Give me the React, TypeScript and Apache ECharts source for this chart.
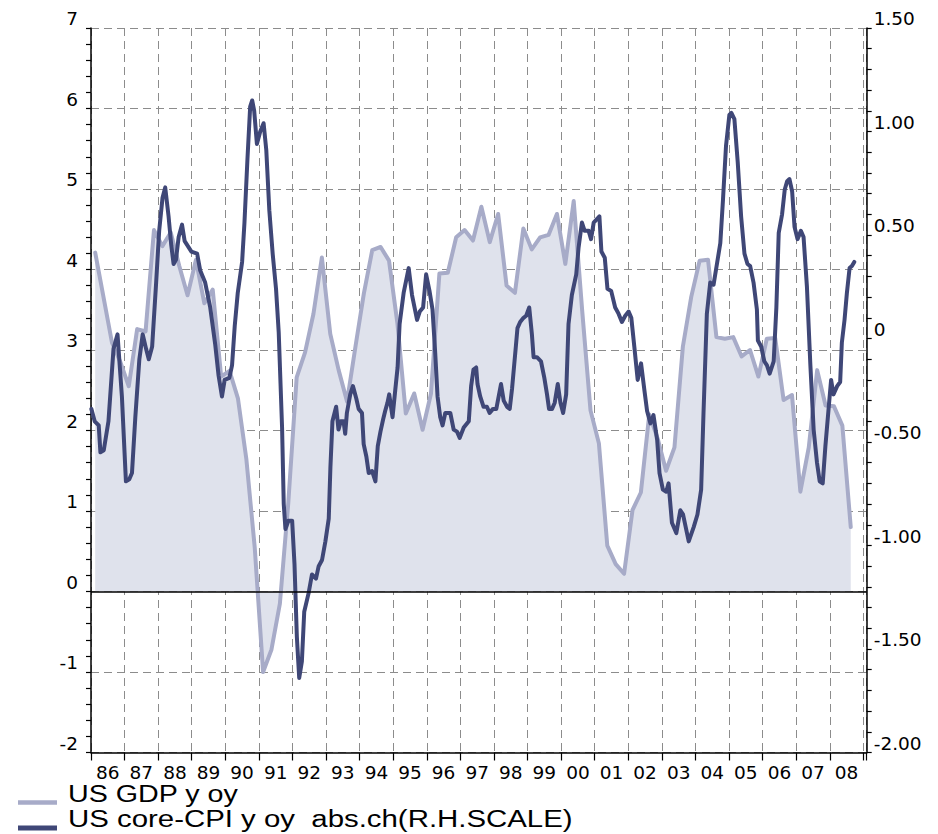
import React, { useEffect, useRef } from 'react';
import * as echarts from 'echarts';

// US GDP y/y (%), quarterly from 1986 Q1
const gdpStartYear = 1986;
const gdpYoY = [
  4.21, 3.65, 3.09, 2.85,
  2.55, 3.26, 3.23, 4.49,
  4.29, 4.46, 4.05, 3.68,
  4.12, 3.58, 3.75, 2.67,
  2.74, 2.4, 1.65, 0.55,
  -1.0, -0.72, -0.15, 1.1,
  2.66, 2.97, 3.45, 4.15,
  3.2, 2.75, 2.36, 3.04,
  3.7, 4.24, 4.28, 4.11,
  3.33, 2.21, 2.46, 2.01,
  2.46, 3.95, 3.96, 4.4,
  4.49, 4.36, 4.78, 4.34,
  4.69, 3.8, 3.71, 4.51,
  4.25, 4.4, 4.43, 4.69,
  4.07, 4.85, 3.5, 2.25,
  1.84, 0.57, 0.34, 0.22,
  1.01, 1.23, 2.2, 1.9,
  1.5, 1.79, 3.04, 3.66,
  4.11, 4.12, 3.16, 3.14,
  3.16, 2.92, 3.0, 2.67,
  3.14, 3.15, 2.38, 2.44,
  1.24, 1.79, 2.75, 2.31,
  2.3, 2.06, 0.8,
];

// US core-CPI y/y, absolute change (right-hand scale)
const cpiDates = [
  1986.01, 1986.11, 1986.23, 1986.28, 1986.38, 1986.52, 1986.67, 1986.79, 1986.92,
  1987.04, 1987.14, 1987.22, 1987.32, 1987.44, 1987.54, 1987.64, 1987.72, 1987.82, 1987.94,
  1988.03, 1988.13, 1988.21, 1988.31, 1988.39, 1988.46, 1988.53, 1988.61, 1988.71, 1988.79, 1988.99,
  1989.16, 1989.25, 1989.4, 1989.55, 1989.7, 1989.8, 1989.9, 1989.98,
  1990.12, 1990.2, 1990.28, 1990.37, 1990.5, 1990.57, 1990.66, 1990.74, 1990.8, 1990.86, 1990.94,
  1991.04, 1991.14, 1991.22, 1991.31, 1991.41, 1991.51, 1991.59, 1991.69, 1991.74, 1991.79, 1991.88, 1991.99,
  1992.06, 1992.13, 1992.2, 1992.28, 1992.35, 1992.48, 1992.58, 1992.7, 1992.78, 1992.88, 1992.98,
  1993.08, 1993.13, 1993.19, 1993.3, 1993.37, 1993.44, 1993.52, 1993.57, 1993.62, 1993.72, 1993.8, 1993.9, 1993.97,
  1994.07, 1994.12, 1994.2, 1994.27, 1994.37, 1994.47, 1994.54, 1994.62, 1994.7, 1994.76, 1994.83, 1994.88, 1994.98,
  1995.06, 1995.13, 1995.19, 1995.31, 1995.46, 1995.56, 1995.71, 1995.79, 1995.89, 1995.98,
  1996.08, 1996.17, 1996.25, 1996.32, 1996.4, 1996.47, 1996.55, 1996.7, 1996.8, 1996.9, 1996.98,
  1997.1, 1997.25, 1997.32, 1997.39, 1997.47, 1997.51, 1997.59, 1997.69, 1997.79, 1997.87, 1997.97,
  1998.07, 1998.21, 1998.29, 1998.39, 1998.47, 1998.54, 1998.64, 1998.7, 1998.78, 1998.88, 1998.96,
  1999.05, 1999.13, 1999.18, 1999.28, 1999.4, 1999.5, 1999.58, 1999.64, 1999.73, 1999.81, 1999.9, 1999.98,
  2000.06, 2000.15, 2000.22, 2000.32, 2000.45, 2000.52, 2000.62, 2000.7, 2000.82, 2000.89, 2000.97,
  2001.14, 2001.2, 2001.3, 2001.38, 2001.49, 2001.61, 2001.71, 2001.81, 2001.91,
  2002.01, 2002.09, 2002.18, 2002.28, 2002.38, 2002.48, 2002.56, 2002.66, 2002.75, 2002.86, 2002.93,
  2003.03, 2003.13, 2003.2, 2003.3, 2003.43, 2003.55, 2003.63, 2003.8, 2003.95,
  2004.06, 2004.17, 2004.24, 2004.34, 2004.44, 2004.54, 2004.64, 2004.74, 2004.82, 2004.91,
  2005.01, 2005.07, 2005.16, 2005.26, 2005.36, 2005.46, 2005.55, 2005.63, 2005.73, 2005.83, 2005.86, 2005.96,
  2006.05, 2006.13, 2006.21, 2006.33, 2006.41, 2006.48, 2006.58, 2006.66, 2006.73, 2006.8, 2006.88, 2006.95,
  2007.04, 2007.14, 2007.22, 2007.32, 2007.42, 2007.52, 2007.62, 2007.7, 2007.79, 2007.87, 2007.97,
  2008.04, 2008.11, 2008.22, 2008.31, 2008.36, 2008.44, 2008.51, 2008.59, 2008.66, 2008.73,
];
const cpiAbsCh = [
  -0.34, -0.4, -0.42, -0.55, -0.54, -0.4, -0.05, 0.02, -0.28,
  -0.69, -0.68, -0.65, -0.38, -0.1, 0.02, -0.05, -0.1, -0.04, 0.27,
  0.52, 0.68, 0.73, 0.59, 0.45, 0.36, 0.38, 0.49, 0.55, 0.47, 0.42,
  0.41, 0.33, 0.27, 0.15, -0.03, -0.18, -0.28, -0.2,
  -0.19, -0.13, 0.06, 0.22, 0.37, 0.56, 0.87, 1.12, 1.15, 1.1, 0.94,
  1.0, 1.04, 0.91, 0.62, 0.41, 0.24, 0.03, -0.43, -0.8, -0.92, -0.88, -0.88,
  -1.09, -1.44, -1.64, -1.56, -1.32, -1.23, -1.14, -1.16, -1.1, -1.07, -0.98,
  -0.87, -0.62, -0.4, -0.33, -0.44, -0.4, -0.4, -0.46, -0.36, -0.27, -0.23, -0.29, -0.34,
  -0.36, -0.51, -0.57, -0.65, -0.64, -0.69, -0.52, -0.45, -0.39, -0.35, -0.31, -0.27, -0.38,
  -0.25, -0.14, 0.07, 0.22, 0.34, 0.21, 0.09, 0.13, 0.15, 0.31,
  0.23, 0.14, -0.07, -0.28, -0.38, -0.42, -0.36, -0.36, -0.44, -0.45, -0.48,
  -0.43, -0.4, -0.23, -0.15, -0.14, -0.22, -0.28, -0.33, -0.33, -0.36, -0.34,
  -0.34, -0.22, -0.3, -0.33, -0.34, -0.24, -0.06, 0.05, 0.08, 0.1, 0.11,
  0.15, 0.02, -0.09, -0.09, -0.11, -0.19, -0.27, -0.34, -0.34, -0.31, -0.22, -0.31,
  -0.36, -0.27, 0.07, 0.21, 0.31, 0.44, 0.56, 0.52, 0.52, 0.48, 0.56,
  0.59, 0.42, 0.39, 0.24, 0.23, 0.15, 0.12, 0.08, 0.11,
  0.13, 0.1, -0.04, -0.2, -0.12, -0.25, -0.35, -0.41, -0.37, -0.49, -0.65,
  -0.73, -0.74, -0.7, -0.89, -0.94, -0.83, -0.85, -0.98, -0.91,
  -0.85, -0.73, -0.36, 0.12, 0.27, 0.26, 0.36, 0.46, 0.67, 0.93,
  1.08, 1.09, 1.06, 0.85, 0.59, 0.41, 0.36, 0.35, 0.27, 0.14, -0.01, -0.04,
  -0.11, -0.13, -0.17, -0.11, 0.15, 0.51, 0.6, 0.72, 0.76, 0.77, 0.71, 0.54,
  0.48, 0.52, 0.49, 0.25, -0.12, -0.44, -0.6, -0.69, -0.7, -0.52, -0.33,
  -0.2, -0.27, -0.23, -0.21, -0.02, 0.09, 0.22, 0.34, 0.35, 0.37,
];

const legendLabels = ['US GDP y oy', 'US core-CPI y oy  abs.ch(R.H.SCALE)'];

const FONT = '"Liberation Sans", Arial, Helvetica, sans-serif';
const TICK_FONT = '"DejaVu Sans", "Liberation Sans", sans-serif';
const LIGHT = '#a7abc8';
const DARK = '#3f4777';
const FILL = '#dfe2ec';

export default function App() {
  const ref = useRef<HTMLDivElement>(null);

  useEffect(() => {
    if (!ref.current) return;
    const chart = echarts.init(ref.current, null, { renderer: 'svg' });

    const gdpData = gdpYoY.map((v, i) => [gdpStartYear + (i + 0.5) / 4, v]);
    const cpiData = cpiDates.map((t, i) => [t, cpiAbsCh[i]]);

    const gridDash = { color: '#8c8c8c', width: 1, type: [8, 5] as number[] };
    const tickLabel = {
      color: '#000',
      fontFamily: TICK_FONT,
      fontSize: 18.5,
      lineHeight: 19,
    };

    const option: any = {
      animation: false,
      backgroundColor: '#ffffff',
      grid: { left: 91, right: 71.3, top: 28, bottom: 81.5, containLabel: false },
      xAxis: [
        {
          type: 'value',
          min: 1986,
          max: 2009.1,
          interval: 1,
          position: 'bottom',
          axisLine: { show: true, onZero: false, lineStyle: { color: '#000', width: 1.5 } },
          axisTick: { show: true, inside: false, length: 8, lineStyle: { color: '#000', width: 1.2 } },
          axisLabel: { show: false },
          splitLine: { show: true, lineStyle: gridDash },
        },
        {
          type: 'value',
          min: 1986,
          max: 2009.1,
          interval: 0.5,
          position: 'bottom',
          axisLine: { show: false, onZero: false },
          axisTick: { show: false },
          splitLine: { show: false },
          axisLabel: {
            show: true,
            margin: 10,
            ...tickLabel,
            formatter: (v: number) => {
              const f = v - Math.floor(v);
              if (Math.abs(f - 0.5) < 0.01) {
                return String(Math.floor(v) % 100).padStart(2, '0');
              }
              return '';
            },
          },
        },
      ],
      yAxis: [
        {
          type: 'value',
          min: -2,
          max: 7,
          interval: 1,
          position: 'left',
          axisLine: { show: true, onZero: false, lineStyle: { color: '#000', width: 1.5 } },
          axisTick: { show: true, inside: false, length: 5, lineStyle: { color: '#000', width: 1.2 } },
          minorTick: { show: true, splitNumber: 5, length: 5, lineStyle: { color: '#000', width: 1.2 } },
          minorSplitLine: { show: false },
          splitLine: { show: true, lineStyle: gridDash },
          axisLabel: {
            margin: 13,
            ...tickLabel,
            verticalAlign: 'bottom',
            formatter: (v: number) => String(v),
          },
        },
        {
          type: 'value',
          min: -2,
          max: 1.5,
          interval: 0.5,
          position: 'right',
          axisLine: { show: true, onZero: false, lineStyle: { color: '#000', width: 1.5 } },
          axisTick: { show: true, inside: false, length: 5, lineStyle: { color: '#000', width: 1.2 } },
          minorTick: { show: true, splitNumber: 5, length: 5, lineStyle: { color: '#000', width: 1.2 } },
          minorSplitLine: { show: false },
          splitLine: { show: false },
          axisLabel: {
            margin: 7,
            ...tickLabel,
            verticalAlign: 'bottom',
            formatter: (v: number) => (v === 0 ? '0' : v.toFixed(2)),
          },
        },
      ],
      series: [
        {
          name: legendLabels[0],
          type: 'line',
          xAxisIndex: 0,
          yAxisIndex: 0,
          data: gdpData,
          showSymbol: false,
          symbol: 'none',
          smooth: false,
          lineStyle: { color: LIGHT, width: 4, cap: 'round', join: 'round' },
          areaStyle: { color: FILL, opacity: 1 },
          z: 2,
          markLine: {
            silent: true,
            symbol: ['none', 'none'],
            label: { show: false },
            lineStyle: { color: '#000', width: 1.5, type: 'solid' },
            data: [{ yAxis: 0 }],
          },
        },
        {
          name: legendLabels[1],
          type: 'line',
          xAxisIndex: 0,
          yAxisIndex: 1,
          data: cpiData,
          showSymbol: false,
          symbol: 'none',
          smooth: false,
          lineStyle: { color: DARK, width: 4, cap: 'round', join: 'round' },
          z: 3,
        },
      ],
      graphic: [
        {
          type: 'line',
          shape: { x1: 18, y1: 802.5, x2: 57, y2: 802.5 },
          style: { stroke: LIGHT, lineWidth: 4.5 },
        },
        {
          type: 'line',
          shape: { x1: 18, y1: 828, x2: 57, y2: 828 },
          style: { stroke: DARK, lineWidth: 5 },
        },
        {
          type: 'text',
          x: 68,
          y: 794,
          scaleX: 1.17,
          style: {
            text: legendLabels[0],
            fontFamily: FONT,
            fontSize: 24.5,
            fill: '#000',
            align: 'left',
            verticalAlign: 'middle',
          },
        },
        {
          type: 'text',
          x: 68,
          y: 819,
          scaleX: 1.2,
          style: {
            text: legendLabels[1],
            fontFamily: FONT,
            fontSize: 24.5,
            fill: '#000',
            align: 'left',
            verticalAlign: 'middle',
          },
        },
      ],
    };

    chart.setOption(option);
    return () => chart.dispose();
  }, []);

  return (
    <div
      ref={ref}
      style={{ position: 'fixed', left: 0, top: 0, width: 938, height: 834, background: '#fff' }}
    />
  );
}
